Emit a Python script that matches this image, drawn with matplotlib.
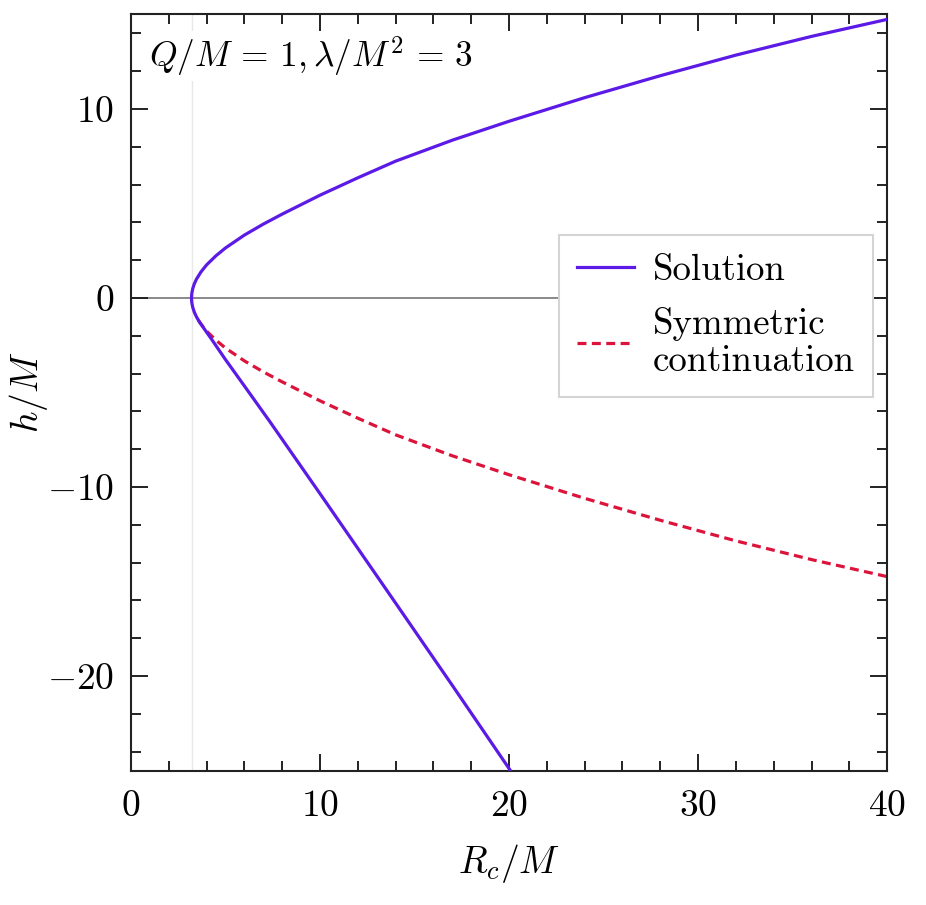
import matplotlib
matplotlib.use("Agg")
import matplotlib.pyplot as plt
from matplotlib.ticker import MultipleLocator, FuncFormatter

plt.rcParams['font.family'] = 'serif'
plt.rcParams['font.serif'] = ['cmr10', 'DejaVu Serif']
plt.rcParams['mathtext.fontset'] = 'cm'
plt.rcParams['axes.formatter.use_mathtext'] = True

# Upper branch of the solution (R_c/M, h/M)
upper_x = [3.2, 3.216, 3.266, 3.348, 3.463, 3.7, 4.0, 4.5, 5.0, 6.0, 7.0, 8.0, 10.0,
           12.0, 14.0, 17.0, 20.0, 24.0, 28.0, 32.0, 36.0, 40.0]
upper_h = [0.0, 0.25, 0.5, 0.75, 1.0, 1.38, 1.755, 2.24, 2.65, 3.33, 3.91, 4.44, 5.44,
           6.36, 7.24, 8.35, 9.35, 10.6, 11.76, 12.85, 13.84, 14.74]

# Lower branch of the solution
lower_x = [3.2, 3.216, 3.266, 3.348, 3.463, 3.62, 3.85, 4.26, 4.97, 6.03, 7.35,
           10.17, 13.9, 17.0, 20.05]
lower_h = [0.0, -0.25, -0.5, -0.75, -1.0, -1.27, -1.6, -2.18, -3.22, -4.7, -6.55,
           -10.6, -16.0, -20.5, -24.97]

# Symmetric continuation
sym_x = [3.56, 3.7, 4.0, 4.5, 5.0, 6.0, 7.0, 8.0, 10.0, 12.0, 14.0, 17.0, 20.0,
         24.0, 28.0, 32.0, 36.0, 40.0]
sym_h = [-1.17, -1.38, -1.755, -2.24, -2.65, -3.33, -3.91, -4.44, -5.44, -6.36,
         -7.24, -8.35, -9.35, -10.6, -11.76, -12.85, -13.84, -14.74]

vertex_x = 3.2

sol_x = upper_x[::-1] + lower_x[1:]
sol_h = upper_h[::-1] + lower_h[1:]


def fmt(v, pos):
    v = int(round(v))
    if v < 0:
        return r'${-}%d$' % (-v)
    return r'$%d$' % v


fig = plt.figure(figsize=(9.26, 9.05), dpi=100)
ax = fig.add_axes([0.1415, 0.1486, 0.8165, 0.8354])

ax.axvline(vertex_x, color='#e8e8e8', lw=1.0, zorder=0)
ax.axhline(0, color='#808080', lw=1.3, zorder=1)
ax.plot(sol_x, sol_h, color='#5c1ae6', lw=2.3, label='Solution', zorder=3)
ax.plot(sym_x, sym_h, color='#dc143c', lw=2.3, ls=(0, (2.8, 1.7)),
        label='Symmetric\ncontinuation', zorder=2)

ax.set_xlim(0, 40)
ax.set_ylim(-25, 15)
ax.xaxis.set_major_locator(MultipleLocator(10))
ax.xaxis.set_minor_locator(MultipleLocator(2))
ax.yaxis.set_major_locator(MultipleLocator(10))
ax.yaxis.set_minor_locator(MultipleLocator(2))
ax.xaxis.set_major_formatter(FuncFormatter(fmt))
ax.yaxis.set_major_formatter(FuncFormatter(fmt))
ax.tick_params(which='both', direction='in', top=True, right=True,
               labelsize=27, width=1.4, color='#222222')
ax.tick_params(which='major', length=12)
ax.tick_params(which='minor', length=7)
ax.tick_params(axis='x', which='major', pad=14)
ax.tick_params(axis='y', which='major', pad=12)
for s in ax.spines.values():
    s.set_linewidth(1.5)
    s.set_color('#222222')

ax.set_xlabel(r'$R_c/M$', fontsize=27)
ax.set_ylabel(r'$h/M$', fontsize=27)
ax.xaxis.set_label_coords(0.5, -0.094)
ax.yaxis.set_label_coords(-0.107, 0.5)

ax.text(0.024, 0.974, r'$Q/M\,=\,1, \lambda/M^2\,=\,3$', transform=ax.transAxes,
        fontsize=25.5, ha='left', va='top',
        bbox=dict(facecolor='white', edgecolor='none', pad=2), zorder=4)

leg = ax.legend(loc='upper right', bbox_to_anchor=(0.9815, 0.708), borderaxespad=0,
                fontsize=26.5, frameon=True, fancybox=False, framealpha=1,
                edgecolor='#d4d4d4', handlelength=1.55, handletextpad=0.5,
                labelspacing=0.55, borderpad=0.5)
leg.get_frame().set_linewidth(1.5)
for t in leg.get_texts():
    t.set_linespacing(1.15)

fig.savefig('out.png', dpi=100)
